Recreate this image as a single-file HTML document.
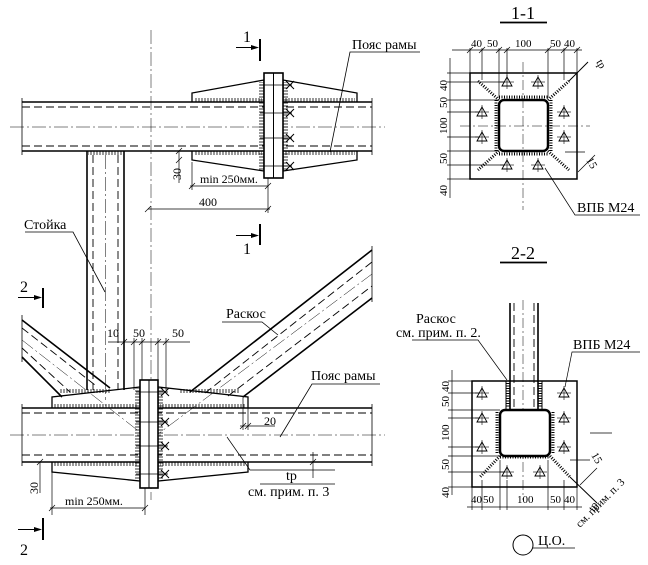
<!DOCTYPE html>
<html><head><meta charset="utf-8"><style>
html,body{margin:0;padding:0;background:#fff;}
svg{display:block;}
text{font-family:"Liberation Serif",serif;fill:#000;}
</style></head><body>
<svg width="648" height="565" viewBox="0 0 648 565" xmlns="http://www.w3.org/2000/svg">
<defs>
<pattern id="tk" width="3" height="5" patternUnits="userSpaceOnUse"><line x1="1" y1="0" x2="1" y2="5" stroke="#000" stroke-width="0.8"/></pattern>
<pattern id="tkv" width="5" height="3" patternUnits="userSpaceOnUse"><line x1="0" y1="1" x2="5" y2="1" stroke="#000" stroke-width="0.8"/></pattern>
<g id="bolt"><path d="M-5,4 L0,-5 L5,4 Z" fill="none" stroke="#000" stroke-width="0.9"/><line x1="-7" y1="0" x2="7" y2="0" stroke="#000" stroke-width="0.6"/><line x1="0" y1="-7" x2="0" y2="7" stroke="#000" stroke-width="0.6"/></g>
<g id="x"><path d="M-4,-4 L4,4 M-4,4 L4,-4" stroke="#000" stroke-width="1"/></g>
</defs>
<g fill="none" stroke="#000">
<!-- TOP CHORD -->
<line x1="22" y1="102" x2="372" y2="102" stroke-width="1.6"/>
<line x1="22" y1="151" x2="372" y2="151" stroke-width="1.6"/>
<line x1="22" y1="107" x2="372" y2="107" stroke-dasharray="8,4" stroke-width="0.9"/>
<line x1="22" y1="146" x2="372" y2="146" stroke-dasharray="8,4" stroke-width="0.9"/>
<line x1="10" y1="127" x2="385" y2="127" stroke-dasharray="14,3,2,3" stroke-width="0.5"/>
<line x1="22" y1="98" x2="22" y2="155" stroke-width="0.8"/>
<line x1="372" y1="98" x2="372" y2="155" stroke-width="0.8"/>
<path d="M192,102 L192,93 L264,80 L264,102" stroke-width="1.3"/>
<path d="M192,151 L192,160 L264,171 L264,151" stroke-width="1.3"/>
<path d="M283,102 L283,80 L357,93 L357,102" stroke-width="1.3"/>
<path d="M283,151 L283,171 L357,160 L357,151" stroke-width="1.3"/>
<rect x="194" y="98" width="68" height="4" fill="url(#tk)" stroke="none"/>
<rect x="194" y="151" width="68" height="4" fill="url(#tk)" stroke="none"/>
<rect x="285" y="98" width="70" height="4" fill="url(#tk)" stroke="none"/>
<rect x="285" y="151" width="70" height="4" fill="url(#tk)" stroke="none"/>
<rect x="259" y="82" width="5" height="88" fill="url(#tkv)" stroke="none"/>
<rect x="283" y="82" width="5" height="88" fill="url(#tkv)" stroke="none"/>
<rect x="264" y="73" width="19" height="105" fill="#fff" stroke-width="1.6"/>
<line x1="273.5" y1="73" x2="273.5" y2="178" stroke-width="1"/>
<g stroke-width="0.8"><line x1="260" y1="85" x2="292" y2="85"/><line x1="260" y1="113" x2="292" y2="113"/><line x1="260" y1="138" x2="292" y2="138"/><line x1="260" y1="166" x2="292" y2="166"/></g>
<use href="#x" x="290" y="85"/><use href="#x" x="290" y="113"/><use href="#x" x="290" y="138"/><use href="#x" x="290" y="166"/>
<line x1="151" y1="30" x2="151" y2="500" stroke-dasharray="14,3,2,3" stroke-width="0.5"/>
<!-- COLUMN -->
<line x1="87" y1="151" x2="87" y2="390" stroke-width="1.6"/>
<line x1="124" y1="151" x2="124" y2="390" stroke-width="1.6"/>
<line x1="93" y1="155" x2="93" y2="390" stroke-dasharray="8,4" stroke-width="0.9"/>
<line x1="118" y1="155" x2="118" y2="390" stroke-dasharray="8,4" stroke-width="0.9"/>
<line x1="105.5" y1="155" x2="105.5" y2="400" stroke-dasharray="14,3,2,3" stroke-width="0.5"/>
<rect x="88" y="151" width="35" height="4" fill="url(#tk)" stroke="none"/>
<g stroke-width="0.7">
<line x1="179" y1="151" x2="179" y2="183"/>
<line x1="192" y1="162" x2="192" y2="190"/>
<line x1="190" y1="186" x2="268" y2="186"/>
<line x1="268" y1="178" x2="268" y2="213"/>
<line x1="148" y1="209" x2="270" y2="209"/>
<path d="M189,189 l6,-6 M265,189 l6,-6 M145,212 l6,-6 M265,212 l6,-6 M176,154 l6,-6 M176,163 l6,-6"/>
</g>
<!-- section marks 1 -->
<line x1="260" y1="39" x2="260" y2="61" stroke-width="2"/>
<line x1="236" y1="47.5" x2="252" y2="47.5" stroke-width="1"/>
<path d="M251,45 L259,47.5 L251,50 Z" fill="#000" stroke="none"/>
<line x1="260" y1="224" x2="260" y2="245" stroke-width="2"/>
<line x1="236" y1="235.5" x2="252" y2="235.5" stroke-width="1"/>
<path d="M251,233 L259,235.5 L251,238 Z" fill="#000" stroke="none"/>
<path d="M420,52 L350,52 L330,152" stroke-width="0.8"/>
<path d="M25,232 L73,232 L105,292" stroke-width="0.8"/>
<!-- LEFT DIAGONAL -->
<line x1="22" y1="320" x2="110" y2="388" stroke-width="1.6"/>
<line x1="22" y1="357" x2="62" y2="397" stroke-width="1.6"/>
<line x1="22" y1="328" x2="95" y2="385" stroke-dasharray="8,4" stroke-width="0.9"/>
<line x1="22" y1="348" x2="70" y2="392" stroke-dasharray="8,4" stroke-width="0.9"/>
<line x1="22" y1="340" x2="150" y2="440" stroke-dasharray="14,3,2,3" stroke-width="0.5"/>
<line x1="22" y1="315" x2="22" y2="362" stroke-width="0.8"/>
<!-- RIGHT DIAGONAL -->
<line x1="190" y1="392" x2="372" y2="250" stroke-width="1.6"/>
<line x1="243" y1="397" x2="372" y2="298" stroke-width="1.6"/>
<line x1="205" y1="393" x2="372" y2="262" stroke-dasharray="8,4" stroke-width="0.9"/>
<line x1="228" y1="396" x2="372" y2="286" stroke-dasharray="8,4" stroke-width="0.9"/>
<line x1="150" y1="440" x2="372" y2="274" stroke-dasharray="14,3,2,3" stroke-width="0.5"/>
<line x1="372" y1="246" x2="372" y2="302" stroke-width="0.8"/>
<path d="M278,335 L262,322 L222,322" stroke-width="0.8"/>
<!-- BOTTOM CHORD -->
<line x1="22" y1="408" x2="372" y2="408" stroke-width="1.6"/>
<line x1="22" y1="462" x2="372" y2="462" stroke-width="1.6"/>
<line x1="22" y1="413" x2="372" y2="413" stroke-dasharray="8,4" stroke-width="0.9"/>
<line x1="22" y1="455" x2="372" y2="455" stroke-dasharray="8,4" stroke-width="0.9"/>
<line x1="10" y1="435" x2="385" y2="435" stroke-dasharray="14,3,2,3" stroke-width="0.5"/>
<line x1="22" y1="404" x2="22" y2="466" stroke-width="0.8"/>
<line x1="372" y1="404" x2="372" y2="466" stroke-width="0.8"/>
<path d="M52,408 L52,397 L140,387 L140,408" stroke-width="1.3"/>
<path d="M52,462 L52,472 L140,481 L140,462" stroke-width="1.3"/>
<path d="M158,408 L158,387 L248,397 L248,408" stroke-width="1.3"/>
<path d="M158,462 L158,481 L248,472 L248,462" stroke-width="1.3"/>
<rect x="54" y="404" width="84" height="4" fill="url(#tk)" stroke="none"/>
<rect x="54" y="462" width="84" height="4" fill="url(#tk)" stroke="none"/>
<rect x="160" y="404" width="86" height="4" fill="url(#tk)" stroke="none"/>
<rect x="160" y="462" width="86" height="4" fill="url(#tk)" stroke="none"/>
<rect x="60" y="389" width="50" height="4" fill="url(#tk)" stroke="none"/>
<rect x="180" y="389" width="60" height="4" fill="url(#tk)" stroke="none"/>
<rect x="135" y="388" width="5" height="92" fill="url(#tkv)" stroke="none"/>
<rect x="158" y="388" width="5" height="92" fill="url(#tkv)" stroke="none"/>
<rect x="140" y="380" width="18" height="108" fill="#fff" stroke-width="1.6"/>
<line x1="149" y1="380" x2="149" y2="488" stroke-width="1"/>
<g stroke-width="0.8"><line x1="136" y1="392" x2="168" y2="392"/><line x1="136" y1="422" x2="168" y2="422"/><line x1="136" y1="446" x2="168" y2="446"/><line x1="136" y1="474" x2="168" y2="474"/></g>
<use href="#x" x="165" y="392"/><use href="#x" x="165" y="422"/><use href="#x" x="165" y="446"/><use href="#x" x="165" y="474"/>
<g stroke-width="0.7">
<line x1="108" y1="342" x2="190" y2="342"/>
<line x1="124" y1="338" x2="124" y2="390"/>
<line x1="134" y1="338" x2="134" y2="390"/>
<line x1="142" y1="338" x2="142" y2="380"/>
<line x1="158" y1="338" x2="158" y2="380"/>
<line x1="166" y1="338" x2="166" y2="390"/>
<line x1="40" y1="462" x2="40" y2="493"/>
<line x1="52" y1="472" x2="52" y2="515"/>
<line x1="50" y1="508" x2="145" y2="508"/>
<line x1="145" y1="488" x2="145" y2="515"/>
<line x1="243" y1="397" x2="243" y2="430"/>
<line x1="248" y1="408" x2="248" y2="430"/>
<line x1="240" y1="426" x2="275" y2="426"/>
<line x1="313" y1="452" x2="313" y2="478"/>
<path d="M227,437 L250,470 L335,470" />
<line x1="260" y1="484" x2="335" y2="484"/>
<path d="M121,345 l6,-6 M131,345 l6,-6 M139,345 l6,-6 M155,345 l6,-6 M163,345 l6,-6 M49,511 l6,-6 M142,511 l6,-6 M37,465 l6,-6 M240,429 l6,-6 M245,429 l6,-6 M310,465 l6,-6"/>
</g>
<!-- section marks 2 -->
<line x1="43" y1="288" x2="43" y2="308" stroke-width="2"/>
<line x1="18" y1="297.5" x2="35" y2="297.5" stroke-width="1"/>
<path d="M34,295 L42,297.5 L34,300 Z" fill="#000" stroke="none"/>
<line x1="43" y1="518" x2="43" y2="540" stroke-width="2"/>
<line x1="18" y1="529.5" x2="35" y2="529.5" stroke-width="1"/>
<path d="M34,527 L42,529.5 L34,532 Z" fill="#000" stroke="none"/>
<path d="M380,384 L312,384 L280,437" stroke-width="0.8"/>

<!-- SECTION 1-1 -->
<line x1="500" y1="22.5" x2="547" y2="22.5" stroke-width="1.8"/>
<rect x="470" y="73" width="107" height="106" stroke-width="1.5"/>
<line x1="523" y1="62" x2="523" y2="210" stroke-dasharray="10,3,2,3" stroke-width="0.5"/>
<line x1="460" y1="126" x2="590" y2="126" stroke-dasharray="10,3,2,3" stroke-width="0.5"/>
<rect x="499" y="100" width="49" height="51" rx="5" stroke-width="2.5"/>
<g stroke-width="3" stroke-dasharray="1,1.5"><line x1="499" y1="97" x2="548" y2="97"/><line x1="499" y1="154" x2="548" y2="154"/><line x1="496" y1="100" x2="496" y2="151"/><line x1="551" y1="100" x2="551" y2="151"/></g>
<g stroke-width="3" stroke-dasharray="1,1.5"><line x1="499" y1="100" x2="478" y2="81"/><line x1="548" y1="100" x2="569" y2="81"/><line x1="499" y1="151" x2="478" y2="170"/><line x1="548" y1="151" x2="569" y2="170"/></g>
<line x1="569" y1="81" x2="588" y2="62" stroke-width="1"/>
<use href="#bolt" x="507" y="82"/><use href="#bolt" x="538" y="82"/><use href="#bolt" x="507" y="165"/><use href="#bolt" x="538" y="165"/>
<use href="#bolt" x="482" y="112"/><use href="#bolt" x="482" y="137"/><use href="#bolt" x="564" y="112"/><use href="#bolt" x="564" y="137"/>
<g stroke-width="0.7">
<line x1="470" y1="48" x2="470" y2="73"/><line x1="482" y1="48" x2="482" y2="80"/><line x1="499" y1="48" x2="499" y2="98"/><line x1="507" y1="48" x2="507" y2="78"/><line x1="548" y1="48" x2="548" y2="98"/><line x1="564" y1="48" x2="564" y2="80"/><line x1="577" y1="48" x2="577" y2="73"/>
<line x1="452" y1="50" x2="582" y2="50"/>
<path d="M467,53 l6,-6 M479,53 l6,-6 M496,53 l6,-6 M504,53 l6,-6 M545,53 l6,-6 M561,53 l6,-6 M574,53 l6,-6"/>
<line x1="450" y1="58" x2="450" y2="198"/>
<line x1="447" y1="73" x2="470" y2="73"/><line x1="447" y1="82" x2="505" y2="82"/><line x1="447" y1="100" x2="499" y2="100"/><line x1="447" y1="112" x2="480" y2="112"/><line x1="447" y1="151" x2="499" y2="151"/><line x1="447" y1="165" x2="505" y2="165"/><line x1="447" y1="179" x2="470" y2="179"/><line x1="447" y1="137" x2="480" y2="137"/>
<line x1="578" y1="172" x2="595" y2="155"/><line x1="565" y1="152" x2="585" y2="152"/>
<path d="M545,168 L575,215 L640,215"/>
</g>
<!-- SECTION 2-2 -->
<line x1="500" y1="262.5" x2="547" y2="262.5" stroke-width="1.8"/>
<rect x="472" y="381" width="105" height="106" stroke-width="1.5"/>
<line x1="523" y1="300" x2="523" y2="500" stroke-dasharray="10,3,2,3" stroke-width="0.5"/>
<line x1="590" y1="433" x2="612" y2="433" stroke-width="0.7"/>
<rect x="500" y="410" width="50" height="46" rx="5" fill="#fff" stroke-width="2.5"/>
<line x1="510" y1="303" x2="510" y2="410" stroke-width="1.6"/>
<line x1="538" y1="303" x2="538" y2="410" stroke-width="1.6"/>
<line x1="514" y1="303" x2="514" y2="410" stroke-dasharray="8,4" stroke-width="0.9"/>
<line x1="534" y1="303" x2="534" y2="410" stroke-dasharray="8,4" stroke-width="0.9"/>
<line x1="506" y1="381" x2="506" y2="410" stroke-width="1"/>
<line x1="542" y1="381" x2="542" y2="410" stroke-width="1"/>
<g stroke-width="3" stroke-dasharray="1,1.5"><line x1="508" y1="383" x2="508" y2="408"/><line x1="540" y1="383" x2="540" y2="408"/><line x1="500" y1="457" x2="550" y2="457"/><line x1="497" y1="412" x2="497" y2="454"/><line x1="553" y1="412" x2="553" y2="454"/><line x1="500" y1="456" x2="480" y2="477"/><line x1="550" y1="456" x2="570" y2="477"/></g>
<line x1="570" y1="477" x2="597" y2="503" stroke-width="1"/>
<use href="#bolt" x="482" y="393"/><use href="#bolt" x="482" y="418"/><use href="#bolt" x="482" y="447"/>
<use href="#bolt" x="564" y="393"/><use href="#bolt" x="564" y="418"/><use href="#bolt" x="564" y="447"/>
<use href="#bolt" x="507" y="472"/><use href="#bolt" x="540" y="472"/>
<g stroke-width="0.7">
<line x1="452" y1="370" x2="452" y2="495"/>
<line x1="448" y1="381" x2="472" y2="381"/><line x1="448" y1="393" x2="480" y2="393"/><line x1="448" y1="410" x2="500" y2="410"/><line x1="448" y1="418" x2="480" y2="418"/><line x1="448" y1="447" x2="480" y2="447"/><line x1="448" y1="456" x2="500" y2="456"/><line x1="448" y1="472" x2="505" y2="472"/><line x1="448" y1="487" x2="472" y2="487"/>
<line x1="467" y1="507" x2="582" y2="507"/>
<line x1="472" y1="487" x2="472" y2="510"/><line x1="482" y1="480" x2="482" y2="510"/><line x1="500" y1="460" x2="500" y2="510"/><line x1="507" y1="480" x2="507" y2="510"/><line x1="548" y1="460" x2="548" y2="510"/><line x1="564" y1="480" x2="564" y2="510"/><line x1="577" y1="487" x2="577" y2="510"/>
<line x1="580" y1="485" x2="597" y2="468"/><line x1="570" y1="460" x2="590" y2="460"/>
<path d="M412,340 L478,340 L507,380"/>
<path d="M640,352 L572,352 L565,387"/>
<circle cx="523" cy="545" r="10" stroke-width="1"/>
<line x1="533" y1="548" x2="575" y2="548"/>
</g>
</g>
<!-- TEXT -->
<g font-size="14">
<text x="243" y="42" font-size="16">1</text>
<text x="243" y="254" font-size="16">1</text>
<text x="20" y="292" font-size="16">2</text>
<text x="20" y="555" font-size="16">2</text>
<text x="352" y="49">Пояс рамы</text>
<text x="24" y="229">Стойка</text>
<text x="226" y="318">Раскос</text>
<text x="311" y="380">Пояс рамы</text>
<text x="200" y="183" font-size="12">min 250мм.</text>
<text x="199" y="206" font-size="12">400</text>
<text x="65" y="505" font-size="12">min 250мм.</text>
<text x="181" y="180" font-size="12" transform="rotate(-90 181 180)">30</text>
<text x="38" y="494" font-size="12" transform="rotate(-90 38 494)">30</text>
<text x="107" y="337" font-size="12">10</text>
<text x="133" y="337" font-size="12">50</text>
<text x="172" y="337" font-size="12">50</text>
<text x="264" y="425" font-size="12">20</text>
<text x="286" y="480">tр</text>
<text x="248" y="496">см. прим. п. 3</text>
<text x="511" y="19" font-size="18">1-1</text>
<text x="511" y="259" font-size="18">2-2</text>
<g font-size="11">
<text x="471" y="47">40</text><text x="487" y="47">50</text><text x="515" y="47">100</text><text x="550" y="47">50</text><text x="564" y="47">40</text>
<text x="447" y="91" transform="rotate(-90 447 91)">40</text>
<text x="447" y="108" transform="rotate(-90 447 108)">50</text>
<text x="447" y="134" transform="rotate(-90 447 134)">100</text>
<text x="447" y="164" transform="rotate(-90 447 164)">50</text>
<text x="447" y="196" transform="rotate(-90 447 196)">40</text>
<text x="449" y="392" transform="rotate(-90 449 392)">40</text>
<text x="449" y="407" transform="rotate(-90 449 407)">50</text>
<text x="449" y="441" transform="rotate(-90 449 441)">100</text>
<text x="449" y="470" transform="rotate(-90 449 470)">50</text>
<text x="449" y="498" transform="rotate(-90 449 498)">40</text>
<text x="471" y="503">40</text><text x="483" y="503">50</text><text x="517" y="503">100</text><text x="550" y="503">50</text><text x="564" y="503">40</text>
<text x="586" y="160" transform="rotate(60 586 160)">15</text>
<text x="596" y="62" transform="rotate(60 596 62)">tр</text>
<text x="591" y="455" transform="rotate(60 591 455)">15</text>
<text x="594" y="512" transform="rotate(-60 594 512)">tр</text>
<text x="580" y="528" transform="rotate(-45 580 528)">см. прим. п. 3</text>
</g>
<text x="577" y="212">ВПБ М24</text>
<text x="573" y="349">ВПБ М24</text>
<text x="416" y="323">Раскос</text>
<text x="396" y="337">см. прим. п. 2.</text>
<text x="538" y="545">Ц.О.</text>
</g>
</svg>
</body></html>
